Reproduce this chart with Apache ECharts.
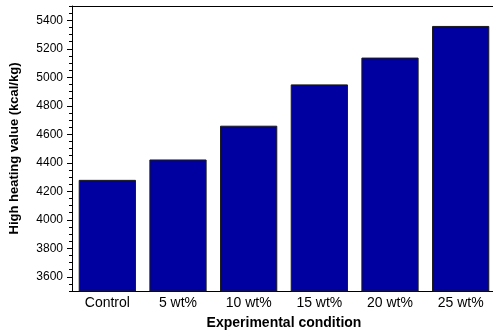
<!DOCTYPE html>
<html>
<head>
<meta charset="utf-8">
<script src="https://cdn.jsdelivr.net/npm/echarts@6/dist/echarts.min.js"></script>
<style>html,body{margin:0;padding:0;background:#fff;}#c{width:493px;height:330px;}</style>
</head>
<body>
<div id="c"></div>
<script>
const categories = ['Control', '5 wt%', '10 wt%', '15 wt%', '20 wt%', '25 wt%'];
const hhv = [4280, 4423, 4660, 4950, 5138, 5360];
const yTicks = [3600, 3800, 4000, 4200, 4400, 4600, 4800, 5000, 5200, 5400];

const chart = echarts.init(document.getElementById('c'), null, {renderer: 'canvas'});
const font = 'Liberation Sans, Arial, sans-serif';
chart.setOption({
  animation: false,
  grid: {left: 72, right: -3, top: 6, bottom: 39, containLabel: false, outerBoundsMode: 'none'},
  xAxis: [{
    type: 'category', data: categories, position: 'bottom',
    axisLine: {lineStyle: {color: '#000', width: 1}},
    axisTick: {alignWithLabel: true, inside: false, length: 4, lineStyle: {color: '#000'}},
    axisLabel: {color: '#000', fontFamily: font, fontSize: 14, margin: 5, interval: 0},
    name: 'Experimental condition', nameLocation: 'middle', nameGap: 25,
    nameTextStyle: {color: '#000', fontFamily: font, fontSize: 14, fontWeight: 'bold'}
  }, {
    type: 'category', data: categories, position: 'top',
    axisLine: {lineStyle: {color: '#000', width: 1}},
    axisTick: {alignWithLabel: true, inside: true, length: 3, lineStyle: {color: '#000'}},
    axisLabel: {show: false}
  }],
  yAxis: [{
    type: 'value', min: 3500, max: 5500, interval: 50,
    axisLine: {show: true, lineStyle: {color: '#000', width: 1}},
    axisTick: {show: true, length: 5, customValues: yTicks, lineStyle: {color: '#000'}},
    splitLine: {show: false},
    axisLabel: {color: '#000', fontFamily: font, fontSize: 12, margin: 9, customValues: yTicks,
      formatter: v => String(v)},
    name: 'High heating value (kcal/kg)', nameLocation: 'middle', nameGap: 51,
    nameTextStyle: {color: '#000', fontFamily: font, fontSize: 13, fontWeight: 'bold'}
  }, {
    type: 'value', min: 3500, max: 5500, interval: 50, position: 'left', offset: 0,
    axisLine: {show: false},
    axisTick: {show: true, length: 3, lineStyle: {color: '#000'}},
    splitLine: {show: false},
    axisLabel: {show: false}
  }],
  series: [{
    type: 'bar', data: hhv, barCategoryGap: '19%',
    itemStyle: {color: '#0000A0', borderColor: '#1a1a1a', borderWidth: 1}
  }]
});
</script>
</body>
</html>
